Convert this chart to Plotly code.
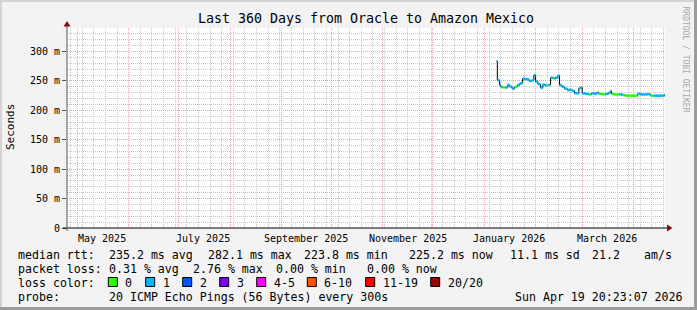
import plotly.graph_objects as go

# ---------------- data ----------------
start_time = "2025-04-24 20:23:07"
end_time = "2026-04-19 20:23:07"

step_dates = [
    "2026-01-08 12:00", "2026-01-08 22:00", "2026-01-10 07:00", "2026-01-10 22:00",
    "2026-01-11 22:00", "2026-01-13 22:00", "2026-01-15 07:00", "2026-01-15 22:00",
    "2026-01-17 08:00", "2026-01-17 23:00", "2026-01-19 08:00", "2026-01-20 23:00",
    "2026-01-22 12:00", "2026-01-24 03:00", "2026-01-25 08:00", "2026-01-27 22:00",
    "2026-01-29 17:00", "2026-01-30 22:00", "2026-01-31 23:00", "2026-02-02 08:00",
    "2026-02-03 23:00", "2026-02-05 08:00", "2026-02-06 13:00", "2026-02-07 13:00",
    "2026-02-08 18:00", "2026-02-09 23:00", "2026-02-11 04:00", "2026-02-12 04:00",
    "2026-02-12 23:00", "2026-02-14 08:00", "2026-02-15 09:00", "2026-02-16 18:00",
    "2026-02-18 09:00", "2026-02-19 23:00", "2026-02-21 09:00", "2026-02-22 04:00",
    "2026-02-23 00:00", "2026-02-24 09:00", "2026-02-26 23:00", "2026-02-28 04:00",
    "2026-03-01 00:00", "2026-03-02 23:00", "2026-03-04 23:00", "2026-03-06 14:00",
    "2026-03-08 14:00", "2026-03-09 18:00", "2026-03-10 23:00", "2026-03-13 09:00",
    "2026-03-15 00:00", "2026-03-16 23:00", "2026-03-18 00:00", "2026-03-18 14:00",
    "2026-03-19 23:00", "2026-03-23 10:00", "2026-03-25 09:00", "2026-03-27 00:00",
    "2026-03-31 01:00", "2026-04-03 10:00", "2026-04-05 00:00", "2026-04-09 01:00",
    "2026-04-11 01:00", "2026-04-13 00:00", "2026-04-18 01:00", "2026-04-19 15:00",
]
median_ms = [
    284, 251, 243, 240, 239, 239, 244, 241, 239, 237, 240, 243,
    246, 254, 253, 250, 251, 260, 249, 244.5, 238.5, 244, 242, 243,
    243, 255.5, 255, 254, 255.5, 259, 243, 240, 237, 234.6, 235, 235,
    233, 229, 237.5, 239, 229, 228, 227, 229, 228, 230, 228, 227,
    228, 230, 233, 228, 227, 227, 226, 225, 225, 228, 227, 227.5,
    225, 225, 225, 227,
]
# lost pings (of 20) per step
loss = [
    1, 1, 1, 1, 0, 1, 1, 1, 1, 1, 0, 1,
    1, 1, 1, 1, 1, 1, 1, 1, 1, 1, 1, 0,
    1, 1, 1, 0, 1, 1, 1, 1, 1, 1, 1, 0,
    1, 1, 1, 1, 1, 1, 0, 1, 1, 1, 0, 0,
    1, 1, 1, 0, 0, 1, 0, 0, 0, 1, 1, 1,
    0, 1, 1, 0,
]

y_tick_vals = [0, 50, 100, 150, 200, 250, 300]
y_tick_text = ["0", "50 m", "100 m", "150 m", "200 m", "250 m", "300 m"]
month_grid = ["2025-05-01", "2025-06-01", "2025-07-01", "2025-08-01", "2025-09-01",
              "2025-10-01", "2025-11-01", "2025-12-01", "2026-01-01", "2026-02-01",
              "2026-03-01", "2026-04-01"]
x_label_dates = ["2025-05-16", "2025-07-16", "2025-09-16", "2025-11-16", "2026-01-16", "2026-03-16"]
x_label_text = ["May 2025", "July 2025", "September 2025", "November 2025", "January 2026", "March 2026"]

loss_labels = ["0", "1", "2", "3", "4-5", "6-10", "11-19", "20/20"]
loss_colors = ["#26ff00", "#00b8ff", "#0059ff", "#7e00ff", "#ff00ff", "#ff5500", "#ff0000", "#a10000"]

title_text = "Last 360 Days from Oracle to Amazon Mexico"
rtt_stats = [("median rtt:", 16), ("235.2 ms avg", 107.3), ("282.1 ms max", 205.5),
             ("223.8 ms min", 301.5), ("225.2 ms now", 407.3), ("11.1 ms sd", 507.7),
             ("21.2", 590), ("am/s", 642.3)]
loss_stats = [("packet loss:", 16), ("0.31 % avg", 107.3), ("2.76 % max", 191),
              ("0.00 % min", 274), ("0.00 % now", 365)]
probe_text = "20 ICMP Echo Pings (56 Bytes) every 300s"
stamp_text = "Sun Apr 19 20:23:07 2026"

# ---------------- layout helpers ----------------
W, H = 697, 310
L, R, T, B = 67, 665, 28, 228
MONO = "DejaVu Sans Mono"
DOT = "1px,1px"


def px(x):
    return (x - L) / (R - L)


def py(y):
    return (B - y) / (B - T)


fig = go.Figure()

# black median step line
fig.add_trace(go.Scatter(
    x=step_dates + [end_time], y=median_ms + [median_ms[-1]],
    mode="lines", line=dict(color="#000000", width=1, shape="hv"),
    hoverinfo="skip", showlegend=False))

# coloured (by loss) horizontal segments
seg_end = step_dates[1:] + [end_time]
for lv in sorted(set(loss)):
    xs, ys = [], []
    for d0, d1, v, l in zip(step_dates, seg_end, median_ms, loss):
        if l == lv:
            xs += [d0, d1, None]
            ys += [v, v, None]
    fig.add_trace(go.Scatter(
        x=xs, y=ys, mode="lines",
        line=dict(color=loss_colors[lv], width=2.5),
        hoverinfo="skip", showlegend=False))

shapes = []
annotations = []

# axis lines + arrows
shapes.append(dict(type="line", xref="paper", yref="paper", x0=px(63), x1=px(668),
                   y0=py(228), y1=py(228), line=dict(color="#000000", width=1), layer="above"))
shapes.append(dict(type="line", xref="paper", yref="paper", x0=px(67), x1=px(67),
                   y0=py(231), y1=py(25), line=dict(color="#555555", width=1), layer="above"))
shapes.append(dict(type="path", xref="paper", yref="paper",
                   path=f"M {px(667)},{py(224.5)} L {px(672.5)},{py(228)} L {px(667)},{py(231.5)} Z",
                   fillcolor="#8b0a0a", line=dict(width=0), layer="above"))
shapes.append(dict(type="path", xref="paper", yref="paper",
                   path=f"M {px(63.5)},{py(26.5)} L {px(67)},{py(21)} L {px(70.5)},{py(26.5)} Z",
                   fillcolor="#8b0a0a", line=dict(width=0), layer="above"))

# outer frame
shapes.append(dict(type="line", xref="paper", yref="paper", x0=px(0), x1=px(W),
                   y0=py(1), y1=py(1), line=dict(color="#d4d4d4", width=2)))
shapes.append(dict(type="line", xref="paper", yref="paper", x0=px(1), x1=px(1),
                   y0=py(0), y1=py(H), line=dict(color="#d4d4d4", width=2)))
shapes.append(dict(type="line", xref="paper", yref="paper", x0=px(0), x1=px(W),
                   y0=py(H - 1.5), y1=py(H - 1.5), line=dict(color="#9c9c9c", width=3)))
shapes.append(dict(type="line", xref="paper", yref="paper", x0=px(W - 1.5), x1=px(W - 1.5),
                   y0=py(0), y1=py(H), line=dict(color="#9c9c9c", width=3)))

# x labels
for d, t in zip(x_label_dates, x_label_text):
    annotations.append(dict(x=d, y=py(238), xref="x", yref="paper", text=t,
                            showarrow=False, xanchor="center", yanchor="middle",
                            font=dict(family=MONO, size=10, color="#000000")))

# y axis title
annotations.append(dict(x=px(10), y=py(127), xref="paper", yref="paper", text="Seconds",
                        textangle=-90, showarrow=False, xanchor="center", yanchor="middle",
                        font=dict(family=MONO, size=11, color="#000000")))
# credit
annotations.append(dict(x=px(685.5), y=py(59), xref="paper", yref="paper",
                        text="RRDTOOL / TOBI OETIKER", textangle=90, showarrow=False,
                        xanchor="center", yanchor="middle",
                        font=dict(family=MONO, size=8, color="#a8a8a8")))

LEG = 11.6
line_y = [254.5, 268.5, 282.5, 296.5]


def leg_text(t, x, y, anchor="left"):
    annotations.append(dict(x=px(x), y=py(y), xref="paper", yref="paper", text=t,
                            showarrow=False, xanchor=anchor, yanchor="middle",
                            font=dict(family=MONO, size=LEG, color="#000000")))


for t, x in rtt_stats:
    leg_text(t, x, line_y[0])
for t, x in loss_stats:
    leg_text(t, x, line_y[1])
leg_text("loss color:", 16, line_y[2])
box_x = [108.3, 145.7, 182.7, 219.7, 256.7, 307.3, 365.7, 430.7]
for bx, lab, col in zip(box_x, loss_labels, loss_colors):
    shapes.append(dict(type="rect", xref="paper", yref="paper",
                       x0=px(bx), x1=px(bx + 9), y0=py(286.5), y1=py(277.5),
                       fillcolor=col, line=dict(color="#000000", width=1)))
    leg_text(lab, bx + 15, line_y[2])
leg_text("probe:", 16, line_y[3])
leg_text(probe_text, 107.3, line_y[3])
leg_text(stamp_text, 513.3, line_y[3])

fig.update_layout(
    width=W, height=H,
    margin=dict(l=L, r=W - R, t=T, b=H - B, pad=0),
    paper_bgcolor="#f3f3f3", plot_bgcolor="#ffffff",
    title=dict(text=title_text, x=0.5, xref="paper", xanchor="center",
               y=1 - 18.5 / H, yref="container", yanchor="middle",
               font=dict(family=MONO, size=13.3, color="#000000")),
    shapes=shapes, annotations=annotations,
    showlegend=False,
)
fig.update_xaxes(
    type="date", range=[start_time, end_time],
    tickmode="array", tickvals=month_grid, ticktext=[""] * len(month_grid),
    showticklabels=False, ticks="",
    showgrid=True, gridcolor="#f0a0a0", griddash=DOT, gridwidth=1,
    minor=dict(tickmode="linear", tick0="2025-05-04", dtick=7 * 86400000,
               showgrid=True, gridcolor="#c8c8c8", griddash=DOT, gridwidth=1, ticks=""),
    zeroline=False, showline=False, fixedrange=True,
)
fig.update_yaxes(
    range=[0, 340],
    tickmode="array", tickvals=y_tick_vals, ticktext=y_tick_text,
    ticks="outside", ticklen=4, tickcolor="#555555", tickwidth=1,
    tickfont=dict(family=MONO, size=10, color="#000000"),
    showgrid=True, gridcolor="#f0a0a0", griddash=DOT, gridwidth=1,
    minor=dict(tickmode="linear", tick0=0, dtick=10,
               showgrid=True, gridcolor="#c8c8c8", griddash=DOT, gridwidth=1, ticks=""),
    zeroline=False, showline=False, fixedrange=True,
)

fig.write_html("out.html")
